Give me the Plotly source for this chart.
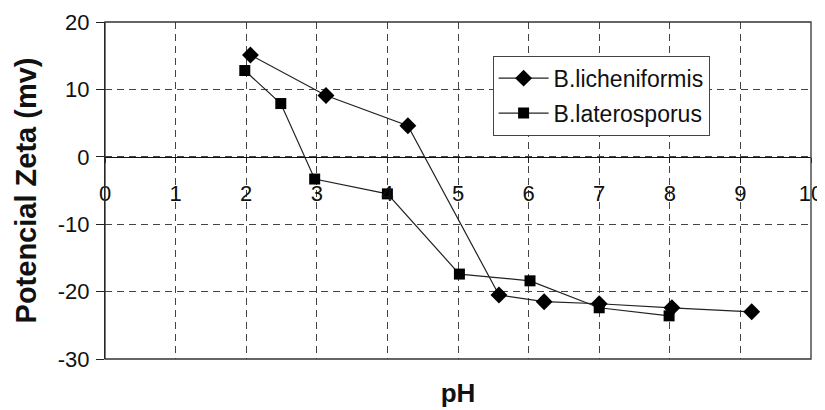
import plotly.graph_objects as go

# Data
lich_ph = [2.06, 3.13, 4.29, 5.58, 6.22, 7.0, 8.03, 9.16]
lich_zeta = [15.1, 9.1, 4.6, -20.5, -21.5, -21.8, -22.4, -23.0]
later_ph = [1.98, 2.49, 2.97, 4.0, 5.02, 6.02, 7.0, 7.99]
later_zeta = [12.8, 7.9, -3.3, -5.5, -17.4, -18.4, -22.4, -23.6]
x_ticks = list(range(0, 11))
y_ticks = [-30, -20, -10, 0, 10, 20]
y_tick_text = ["-30", "-20", "-10", "0", "10", "20"]

FONT = "Liberation Sans, Arial, sans-serif"

fig = go.Figure()
fig.add_trace(go.Scatter(
    x=lich_ph, y=lich_zeta, mode="lines+markers", name="B.licheniformis",
    line=dict(color="#222222", width=1.2),
    marker=dict(symbol="diamond", size=13, color="black"),
    legendgroup="a",
))
fig.add_trace(go.Scatter(
    x=later_ph, y=later_zeta, mode="lines+markers", name="B.laterosporus",
    line=dict(color="#222222", width=1.2),
    marker=dict(symbol="square", size=11, color="black"),
    legendgroup="b",
))
# invisible trace to drive the secondary (zero-crossing) x axis
fig.add_trace(go.Scatter(x=[0, 10], y=[0, 0], xaxis="x2", mode="none",
                         showlegend=False, hoverinfo="skip"))

grid = dict(showgrid=True, gridcolor="#444444", gridwidth=1, griddash="7px,5px")

# page body has an 8px default margin, so the figure is 8px smaller than the window
fig.update_layout(
    width=817, height=402,
    margin=dict(l=97, r=14, t=14, b=51),
    paper_bgcolor="white", plot_bgcolor="white",
    font=dict(family=FONT, color="#111111", size=22),
    xaxis=dict(
        range=[0, 10], tickvals=x_ticks, showticklabels=False, ticks="",
        zeroline=False, showline=False, automargin=False, **grid,
        title=dict(text="<b>pH</b>", font=dict(size=26, family=FONT), standoff=24),
    ),
    xaxis2=dict(
        range=[0, 10], overlaying="x", anchor="free", position=0.6,
        tickvals=x_ticks, ticktext=[str(v) for v in x_ticks],
        ticks="outside", ticklen=5, tickcolor="#222222",
        showline=True, linecolor="#111111", linewidth=1.3,
        showgrid=False, zeroline=False, automargin=False,
        tickfont=dict(size=22, family=FONT), ticklabelstandoff=12,
        ticklabeloverflow="allow",
    ),
    yaxis=dict(
        range=[-30, 20], tickvals=y_ticks, ticktext=y_tick_text, zeroline=False,
        showline=True, linecolor="#111111", linewidth=1.3,
        ticks="outside", ticklen=8, tickcolor="#222222",
        tickfont=dict(size=22, family=FONT), ticklabelstandoff=2,
        automargin=False, **grid,
        title=dict(text="<b>Potencial Zeta (mv)</b>", font=dict(size=29, family=FONT), standoff=12),
    ),
    legend=dict(
        x=0.549, y=0.9, xanchor="left", yanchor="top",
        bgcolor="white", bordercolor="#444444", borderwidth=1,
        font=dict(size=23, family=FONT, color="#111111"),
        tracegroupgap=2, itemwidth=50,
    ),
    shapes=[dict(type="rect", xref="paper", yref="paper", x0=0, y0=0, x1=1, y1=1,
                 line=dict(color="#333333", width=1.3), layer="above")],
)

fig.write_html("out.html")
